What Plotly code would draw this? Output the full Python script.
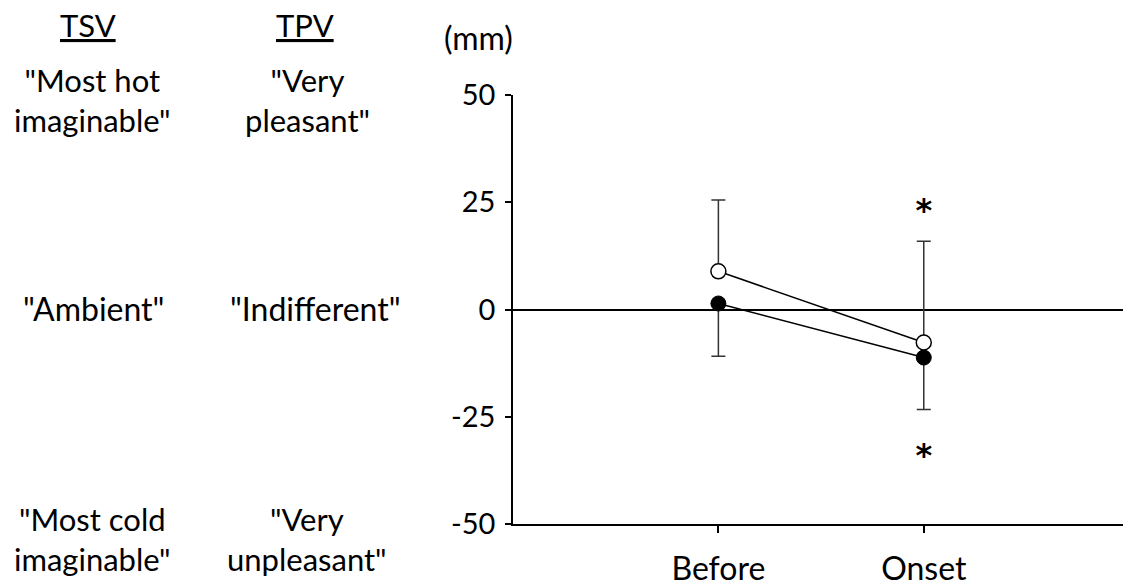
import plotly.graph_objects as go

categories = ["Before", "Onset"]
cat_x = [1, 2]
open_mean = [8.9, -7.7]
open_err_up = [16.6, 23.6]
filled_mean = [1.4, -11.2]
filled_err_down = [12.3, 12.1]
y_ticks = [-50, -25, 0, 25, 50]
y_tick_text = ["-50", "-25", "0", "25", "50"]
star_y = [22.5, -34.5]
star_x = [2, 2]

W, H = 1123, 588
ML, MR, MT, MB = 513, 0, 95, 64
FONT = "Lato"

def px_x(p):
    return (p - ML) / (W - ML - MR)

def px_y(p):
    return 1 - (p - MT) / (H - MT - MB)

fig = go.Figure()

fig.add_trace(go.Scatter(
    x=cat_x, y=filled_mean, mode="lines+markers",
    line=dict(color="black", width=1.5),
    marker=dict(size=15, color="black", line=dict(color="black", width=1)),
    error_y=dict(type="data", symmetric=False, array=[0, 0], arrayminus=filled_err_down,
                 color="#333333", thickness=1.5, width=7),
    showlegend=False,
))
fig.add_trace(go.Scatter(
    x=cat_x, y=open_mean, mode="lines+markers",
    line=dict(color="black", width=1.5),
    marker=dict(size=15, color="white", line=dict(color="black", width=1.5)),
    error_y=dict(type="data", symmetric=False, array=open_err_up, arrayminus=[0, 0],
                 color="#333333", thickness=1.5, width=7),
    showlegend=False,
))

fig.add_trace(go.Scatter(
    x=star_x, y=star_y, mode="text", text=["<b>*</b>", "<b>*</b>"],
    textfont=dict(family="DejaVu Sans", size=32, color="black"),
    textposition="middle center", showlegend=False, hoverinfo="skip",
))

annotations = []
def add_text(txt, cx, cy, size=31):
    annotations.append(dict(
        text=txt, x=px_x(cx), y=px_y(cy), xref="paper", yref="paper",
        xanchor="center", yanchor="middle", showarrow=False, align="center",
        font=dict(family=FONT, size=size, color="black"),
    ))

add_text("<u>TSV</u>", 88, 25, 31)
add_text("<u>TPV</u>", 305, 25, 31)
add_text("(mm)", 478, 38, 32)
add_text('"Most hot<br>imaginable"', 92, 100)
add_text('"Very<br>pleasant"', 307, 100)
add_text('"Ambient"', 93, 308, 32)
add_text('"Indifferent"', 315, 308, 32)
add_text('"Most cold<br>imaginable"', 92, 539)
add_text('"Very<br>unpleasant"', 307, 539)

fig.update_layout(
    width=W, height=H,
    margin=dict(l=ML, r=MR, t=MT, b=MB, pad=0, autoexpand=False),
    paper_bgcolor="white", plot_bgcolor="white",
    font=dict(family=FONT, color="black"),
    annotations=annotations,
    xaxis=dict(
        range=[0, 2.97], tickvals=cat_x, ticktext=categories,
        showline=True, linecolor="black", linewidth=1.5,
        ticks="outside", ticklen=7, tickwidth=1.5, tickcolor="black",
        showgrid=False, zeroline=False, automargin=False,
        tickfont=dict(family=FONT, size=32, color="black"),
        ticklabelstandoff=9,
    ),
    yaxis=dict(
        range=[-50, 50], tickvals=y_ticks, ticktext=y_tick_text,
        showline=True, linecolor="black", linewidth=1.5,
        ticks="outside", ticklen=6, tickwidth=1.5, tickcolor="black",
        showgrid=False, zeroline=True, zerolinecolor="black", zerolinewidth=1.5,
        tickfont=dict(family=FONT, size=29, color="black"),
        ticklabelstandoff=4, automargin=False,
    ),
)

fig.write_html("out.html")
